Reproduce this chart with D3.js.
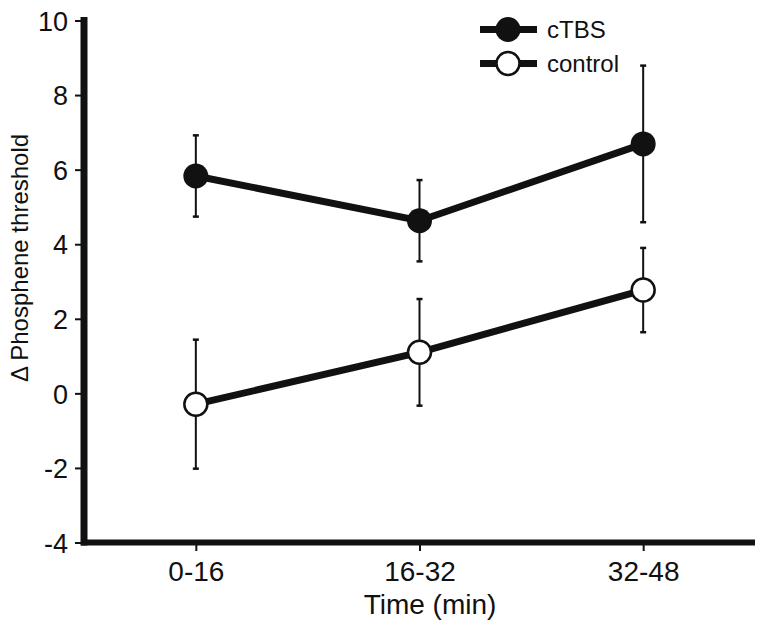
<!DOCTYPE html>
<html>
<head>
<meta charset="utf-8">
<script src="https://cdn.jsdelivr.net/npm/d3@7/dist/d3.min.js"></script>
<style>
  html, body { margin: 0; padding: 0; background: #fff; }
  svg { display: block; }
  text { font-family: "Liberation Sans", Arial, sans-serif; fill: #111; }
</style>
</head>
<body>
<svg id="chart" width="764" height="630"></svg>
<script>
const categories = ["0-16", "16-32", "32-48"];
const seriesNames = ["cTBS", "control"];
const ctbsMean = [5.83, 4.63, 6.69];
const ctbsErr = [1.09, 1.09, 2.10];
const controlMean = [-0.29, 1.10, 2.77];
const controlErr = [1.73, 1.43, 1.13];
const yTicks = [-4, -2, 0, 2, 4, 6, 8, 10];
const xTitle = "Time (min)";
const yTitle = "\u0394 Phosphene threshold";

const svg = d3.select("#chart");
const ink = "#111";

const x = d3.scalePoint().domain(categories).range([84, 755]).padding(0.5);
const y = d3.scaleLinear().domain([-4, 10]).range([542.5, 20.5]);

// Y axis ticks and labels
const yAxis = d3.axisLeft(y).tickValues(yTicks).tickFormat(d => String(d))
  .tickSize(6).tickSizeOuter(0).tickPadding(7);
const gy = svg.append("g").attr("transform", "translate(81,0)").call(yAxis);
gy.select(".domain").remove();
gy.selectAll(".tick line").attr("stroke", ink).attr("stroke-width", 2);
gy.selectAll(".tick text").style("font-size", "27px").attr("dy", "0.36em")
  .style("font-family", "'Liberation Sans', Arial, sans-serif").attr("fill", ink);

// X axis ticks and labels
const xAxis = d3.axisBottom(x).tickSize(6).tickSizeOuter(0).tickPadding(10);
const gx = svg.append("g").attr("transform", "translate(0,545)").call(xAxis);
gx.select(".domain").remove();
gx.selectAll(".tick line").attr("stroke", ink).attr("stroke-width", 2);
gx.selectAll(".tick text").style("font-size", "28px")
  .style("font-family", "'Liberation Sans', Arial, sans-serif").attr("fill", ink);

// Thick axis lines
svg.append("line").attr("x1", 84).attr("x2", 84).attr("y1", y(10) - 3.5).attr("y2", y(-4) + 3)
  .attr("stroke", ink).attr("stroke-width", 7);
svg.append("line").attr("x1", 81).attr("x2", 755).attr("y1", y(-4)).attr("y2", y(-4))
  .attr("stroke", ink).attr("stroke-width", 6);

// Titles
svg.append("text").attr("x", 430).attr("y", 614).attr("text-anchor", "middle")
  .style("font-size", "28px").text(xTitle);
svg.append("text").attr("transform", "translate(28,258) rotate(-90)").attr("text-anchor", "middle")
  .style("font-size", "24px").text(yTitle);

const series = [
  { name: seriesNames[0], mean: ctbsMean, err: ctbsErr, fill: ink },
  { name: seriesNames[1], mean: controlMean, err: controlErr, fill: "#fff" }
];

const line = d3.line().x((d, i) => x(categories[i])).y(d => y(d));

series.forEach(s => {
  const g = svg.append("g");
  // error bars
  s.mean.forEach((m, i) => {
    const cx = x(categories[i]);
    g.append("line").attr("x1", cx).attr("x2", cx).attr("y1", y(m + s.err[i])).attr("y2", y(m - s.err[i]))
      .attr("stroke", ink).attr("stroke-width", 2);
    [m + s.err[i], m - s.err[i]].forEach(v => {
      g.append("line").attr("x1", cx - 3).attr("x2", cx + 3).attr("y1", y(v)).attr("y2", y(v))
        .attr("stroke", ink).attr("stroke-width", 2.5);
    });
  });
  g.append("path").attr("d", line(s.mean)).attr("fill", "none").attr("stroke", ink).attr("stroke-width", 7);
  g.selectAll("circle").data(s.mean).join("circle")
    .attr("cx", (d, i) => x(categories[i])).attr("cy", d => y(d)).attr("r", s.fill === "#fff" ? 11.5 : 12.5)
    .attr("fill", s.fill).attr("stroke", ink).attr("stroke-width", s.fill === "#fff" ? 2.5 : 0);
});

// Legend
const legY = [29.5, 63.5];
series.forEach((s, i) => {
  const g = svg.append("g").attr("transform", `translate(0,${legY[i]})`);
  g.append("line").attr("x1", 480).attr("x2", 537).attr("y1", 0).attr("y2", 0)
    .attr("stroke", ink).attr("stroke-width", 7);
  g.append("circle").attr("cx", 508).attr("cy", 0).attr("r", s.fill === "#fff" ? 11.5 : 12.5)
    .attr("fill", s.fill).attr("stroke", ink).attr("stroke-width", s.fill === "#fff" ? 2.5 : 0);
  g.append("text").attr("x", 547).attr("y", 8).style("font-size", "24px").text(s.name);
});
</script>
</body>
</html>
